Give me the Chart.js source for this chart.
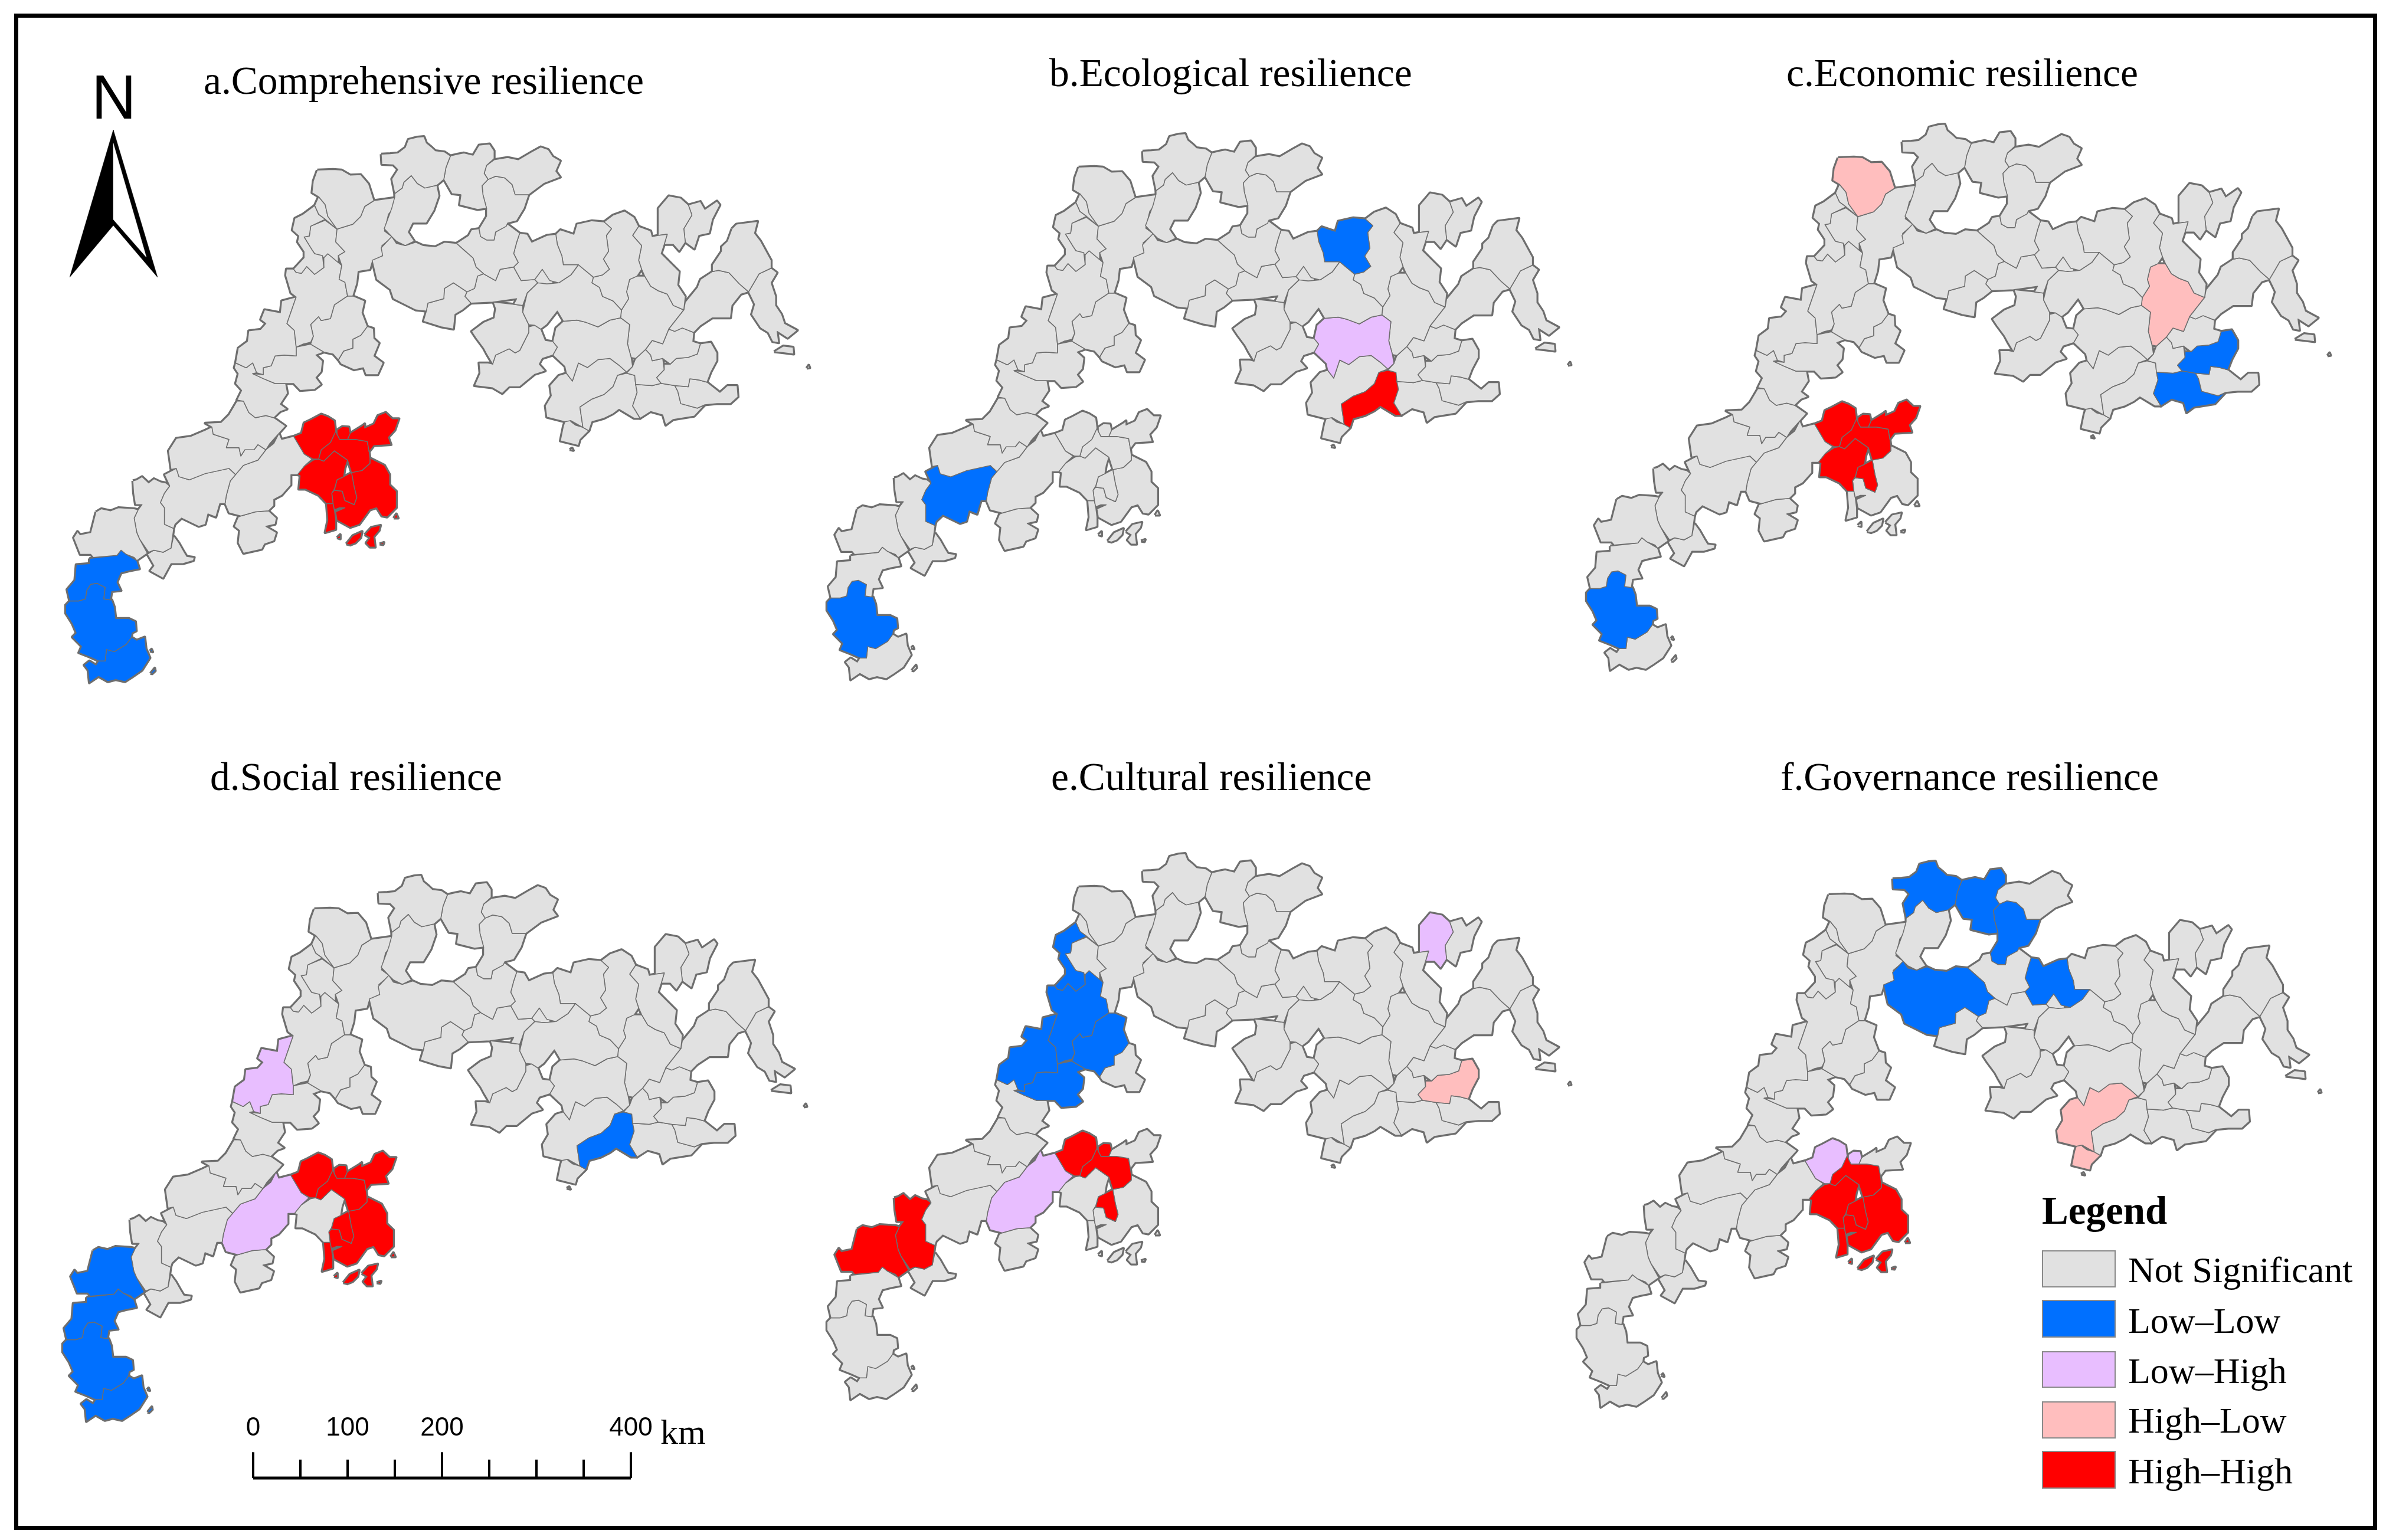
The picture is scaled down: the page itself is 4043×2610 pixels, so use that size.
<!DOCTYPE html>
<html lang="en">
<head>
<meta charset="UTF-8">
<title>Resilience LISA maps</title>
<script src="https://cdn.jsdelivr.net/npm/chart.js"></script>
<style>
    html, body { margin: 0; padding: 0; background: #fff; }
    body { width: 4043px; height: 2610px; position: relative; overflow: hidden; }
    canvas { position: absolute; }
    .txt { position: absolute; white-space: pre; line-height: 1; color: #000; font-family: "Liberation Serif", serif; }
    #frame { position: absolute; left: 24px; top: 23px; width: 4004px; height: 2570px; border: 7px solid #000; box-sizing: border-box; }
    .swatch { position: absolute; width: 125px; box-sizing: border-box; border: 2px solid #8a8a8a; }
</style>
</head>
<body>
<div id="frame"></div>
<script>
// county outlines (flat x,y lists)
// e* = east part, n* = north-west part, s* = south-west part, r* = delta
const e01 = [90,160, 120,158, 145,155, 170,130, 180,95, 210,85, 232,82, 240,110, 258,130, 270,145, 300,150, 320,168, 312,195, 305,220, 298,272, 275,298, 235,310, 210,290, 190,255, 165,285, 160,310, 135,335, 125,270, 145,228, 130,208, 92,205];
const e02 = [320,168, 345,160, 365,155, 395,165, 415,120, 450,115, 465,145, 465,180, 440,210, 432,245, 445,272, 425,300, 428,340, 440,400, 410,405, 350,385, 355,340, 325,335, 298,272, 305,220];
const e03 = [440,210, 465,185, 510,175, 545,185, 590,150, 620,128, 645,140, 660,170, 685,190, 670,235, 685,262, 630,290, 580,340, 535,340, 525,295, 500,265, 470,258, 445,272, 432,245];
const e04 = [445,272, 470,258, 500,265, 525,295, 535,340, 580,340, 565,400, 540,455, 510,465, 505,480, 470,505, 465,540, 440,540, 420,525, 415,490, 440,435, 440,400, 428,340, 425,300];
const e05 = [135,335, 160,310, 165,285, 190,255, 210,290, 235,310, 275,298, 282,345, 265,410, 240,465, 195,465, 180,505, 200,545, 170,565, 140,545, 125,525, 100,490, 125,400, 135,350];
const e06 = [125,525, 140,555, 170,565, 205,550, 230,565, 270,570, 300,550, 340,555, 365,585, 395,620, 405,660, 430,690, 410,700, 400,755, 375,770, 330,730, 300,755, 298,800, 245,820, 240,855, 205,850, 160,820, 130,800, 120,760, 75,715, 60,630, 95,610, 90,575];
const e07 = [245,820, 298,800, 300,755, 330,730, 375,770, 368,790, 388,820, 360,850, 335,870, 330,935, 290,925, 230,900, 240,855];
const e08 = [340,555, 380,520, 390,495, 415,490, 420,525, 440,540, 465,540, 470,505, 510,470, 550,510, 540,550, 530,600, 545,640, 530,660, 485,670, 470,720, 430,690, 405,660, 395,620, 365,585];
const e09 = [550,510, 575,515, 590,550, 640,520, 670,515, 675,560, 690,610, 695,650, 745,650, 720,695, 680,730, 650,720, 625,670, 600,715, 555,720, 530,660, 545,640, 530,600, 540,550];
const e10 = [670,515, 685,495, 730,515, 740,470, 790,455, 830,460, 855,490, 838,520, 845,590, 828,625, 848,670, 825,695, 795,705, 745,650, 695,650, 690,610, 675,560];
const e11 = [830,460, 860,430, 898,412, 930,440, 945,480, 925,520, 955,565, 945,630, 955,670, 940,700, 915,715, 905,770, 912,800, 888,850, 860,810, 825,790, 815,750, 790,730, 795,705, 825,695, 848,670, 828,625, 845,590, 838,520, 855,490];
const e12 = [945,480, 985,500, 990,525, 1010,520, 1040,515, 1030,560, 1020,600, 1050,640, 1080,680, 1075,740, 1100,790, 1095,850, 1060,830, 1040,780, 1010,765, 985,745, 965,700, 955,670, 945,630, 955,565, 925,520];
const e13 = [1010,520, 1010,400, 1045,345, 1085,355, 1110,385, 1122,430, 1095,490, 1100,550, 1080,590, 1060,560, 1030,560, 1040,515];
const e14 = [1110,385, 1150,370, 1165,405, 1205,368, 1215,385, 1190,450, 1180,510, 1145,520, 1130,580, 1100,550, 1095,490, 1122,430];
const e15 = [1255,490, 1270,470, 1340,458, 1330,510, 1350,545, 1385,630, 1385,665, 1345,690, 1330,725, 1310,770, 1280,735, 1245,685, 1210,675, 1190,680, 1190,650, 1220,590, 1220,570, 1240,545];
const e16 = [1385,665, 1405,685, 1385,730, 1400,790, 1400,830, 1420,870, 1430,910, 1472,940, 1440,975, 1405,945, 1410,995, 1390,990, 1375,950, 1350,930, 1320,870, 1330,825, 1310,770, 1330,725, 1345,690];
const e17 = [1190,680, 1210,675, 1245,685, 1280,735, 1310,770, 1285,780, 1255,830, 1250,885, 1190,885, 1150,920, 1128,950, 1090,930, 1065,945, 1045,935, 1095,850, 1100,815, 1140,750, 1150,715];
const e18 = [610,730, 640,735, 680,730, 720,695, 745,650, 795,705, 790,730, 815,750, 825,790, 860,810, 888,850, 885,885, 850,895, 810,925, 770,905, 740,895, 695,900, 675,855, 640,915, 620,935, 600,918, 580,915, 560,860, 575,775];
const e19 = [600,715, 625,670, 645,700, 660,715, 660,735, 640,735, 610,730];
const e20 = [430,690, 470,720, 485,670, 530,660, 555,720, 600,715, 610,730, 575,775, 560,830, 530,825, 540,800, 460,815, 388,820, 368,790, 375,770, 400,755, 410,700];
const e21 = [462,815, 530,825, 560,830, 560,860, 580,915, 580,950, 550,1030, 535,1040, 515,1022, 470,1050, 460,1090, 440,1045, 430,1020, 405,975, 390,945, 430,905, 465,885, 470,845];
const e22 = [600,918, 620,935, 635,985, 660,990, 675,1015, 660,1050, 625,1065, 615,1090, 635,1120, 600,1135, 550,1190, 515,1190, 492,1220, 460,1195, 400,1185, 418,1130, 415,1085, 445,1085, 460,1090, 470,1050, 515,1022, 535,1040, 550,1030, 580,950, 580,925];
const e23 = [695,900, 740,895, 770,905, 810,925, 850,895, 885,885, 915,915, 908,1000, 920,1060, 925,1100, 905,1125, 880,1095, 850,1065, 810,1070, 775,1105, 745,1085, 725,1165, 705,1130, 700,1100, 660,1050, 675,1015, 660,990, 670,930];
const e24 = [915,715, 940,700, 965,700, 985,745, 1010,765, 1040,780, 1060,830, 1095,850, 1045,935, 1025,1000, 990,985, 968,1025, 935,1065, 920,1060, 908,1000, 915,915, 885,885, 888,850, 912,800, 905,770];
const e25 = [1045,935, 1065,945, 1090,930, 1128,950, 1125,990, 1150,1000, 1140,1045, 1110,1060, 1070,1065, 1050,1090, 1025,1065, 990,1075, 985,1050, 968,1025, 990,985, 1025,1000];
const e26 = [1150,1000, 1185,993, 1205,1040, 1205,1075, 1185,1125, 1172,1170, 1145,1160, 1115,1155, 1110,1190, 1065,1185, 1020,1175, 1005,1150, 1030,1115, 1030,1090, 1050,1090, 1070,1065, 1110,1060, 1140,1045];
const e27 = [968,1025, 985,1050, 990,1075, 1025,1065, 1030,1115, 1005,1150, 1020,1175, 990,1185, 935,1180, 932,1140, 905,1130, 925,1100, 935,1065];
const e28 = [1115,1155, 1145,1160, 1172,1170, 1215,1215, 1240,1185, 1272,1185, 1275,1235, 1250,1265, 1205,1265, 1165,1270, 1140,1285, 1085,1265, 1075,1210, 1065,1185, 1110,1190];
const e29 = [935,1180, 990,1185, 1020,1175, 1065,1185, 1075,1210, 1085,1265, 1140,1285, 1165,1270, 1130,1320, 1060,1335, 1035,1360, 1025,1315, 985,1300, 950,1330, 925,1275, 940,1215];
const e30 = [905,1130, 932,1140, 935,1180, 940,1215, 925,1275, 950,1330, 930,1330, 880,1290, 860,1310, 830,1330, 790,1345, 780,1385, 760,1370, 750,1280, 790,1245, 830,1225, 860,1190, 875,1140];
const e31 = [745,1085, 775,1105, 810,1070, 850,1065, 880,1095, 905,1125, 875,1140, 860,1190, 830,1225, 790,1245, 750,1280, 760,1370, 720,1340, 700,1345, 640,1325, 635,1275, 655,1230, 650,1185, 680,1140, 705,1130, 725,1165];
const e32 = [700,1345, 715,1320, 720,1345, 735,1360, 760,1370, 780,1385, 750,1425, 745,1450, 685,1430, 695,1365];
const e33 = [1395,1035, 1425,1010, 1458,1015, 1460,1045, 1430,1040];
const e34 = [1503,1108, 1510,1095, 1513,1106];
const e35 = [716,1468, 724,1462, 728,1472];

const n01 = [1025,265, 1085,262, 1118,265, 1150,290, 1190,288, 1220,335, 1240,420, 1205,450, 1190,500, 1160,540, 1100,565, 1065,500, 1055,440, 1030,400, 1005,380, 1010,320];
const n02 = [1240,420, 1320,405, 1325,440, 1295,490, 1280,575, 1310,605, 1270,650, 1275,700, 1235,725, 1225,770, 1180,780, 1175,840, 1160,905, 1140,905, 1130,835, 1108,820, 1118,750, 1105,700, 1130,680, 1095,630, 1100,565, 1160,540, 1190,500, 1205,450];
const n03 = [1015,445, 1030,490, 1055,515, 1000,550, 995,600, 975,605, 1005,670, 1015,690, 1045,700, 1050,760, 1015,795, 985,755, 965,790, 945,785, 935,768, 975,710, 975,680, 950,630, 955,600, 930,570, 940,510, 970,490];
const n04 = [1030,400, 1055,440, 1065,500, 1100,565, 1055,515, 1030,490, 1015,445];
const n05 = [1055,520, 1100,565, 1095,630, 1130,680, 1105,700, 1105,735, 1065,690, 1050,710, 1015,690, 1005,670, 975,605, 995,600, 1000,550];
const n06 = [935,768, 945,785, 965,790, 985,755, 1015,795, 1050,760, 1050,710, 1065,690, 1105,735, 1118,750, 1108,820, 1130,835, 1140,905, 1090,950, 1075,1020, 1040,1030, 1030,1010, 1000,1050, 1010,1110, 1000,1140, 970,1150, 945,1165, 938,1080, 910,1045, 945,910, 925,890, 905,800, 908,768];
const n07 = [945,910, 910,1045, 938,1080, 945,1165, 945,1210, 900,1205, 865,1210, 850,1260, 820,1270, 820,1305, 795,1295, 780,1245, 755,1270, 715,1245, 725,1170, 760,1135, 765,1082, 810,1075, 830,1045, 810,1025, 825,975, 885,990, 890,930];
const n08 = [1140,905, 1160,905, 1205,930, 1195,990, 1215,1060, 1190,1105, 1160,1125, 1160,1170, 1125,1185, 1105,1230, 1085,1200, 1050,1190, 1000,1150, 1010,1110, 1000,1050, 1030,1010, 1040,1030, 1075,1020, 1090,950];
const n09 = [1215,1060, 1238,1070, 1240,1120, 1260,1145, 1240,1210, 1275,1245, 1255,1305, 1210,1305, 1200,1270, 1165,1280, 1115,1250, 1105,1230, 1125,1185, 1160,1170, 1160,1125, 1190,1105];
const n10 = [945,1165, 1000,1150, 1050,1190, 1020,1205, 1045,1235, 1040,1290, 1020,1320, 1040,1355, 1015,1380, 960,1385, 935,1350, 905,1350, 865,1350, 820,1325, 780,1300, 820,1305, 820,1270, 850,1260, 865,1210, 900,1205, 945,1210];
const n11 = [715,1245, 755,1270, 780,1245, 795,1295, 780,1300, 820,1325, 865,1350, 905,1350, 912,1400, 885,1455, 910,1480, 885,1492, 860,1524, 830,1513, 790,1524, 765,1497, 745,1440, 720,1434, 738,1385, 715,1350, 725,1300, 710,1270];

const s01 = [720,85, 745,85, 765,140, 790,165, 830,155, 860,165, 905,205, 880,240, 845,290, 830,320, 800,295, 785,320, 750,320, 735,350, 728,310, 680,310, 690,270, 630,245, 625,210, 600,192, 660,188, 690,150];
const s02 = [625,210, 630,245, 690,270, 680,310, 728,310, 735,350, 750,320, 785,320, 800,295, 830,320, 800,370, 745,395, 715,440, 690,410, 600,435, 540,465, 500,450, 490,410, 470,415, 460,325, 490,265, 545,255, 600,225];
const s03 = [490,410, 500,450, 540,465, 600,435, 690,410, 715,440, 695,470, 680,540, 675,580, 655,580, 640,645, 610,630, 600,680, 575,690, 510,650, 485,680, 480,700, 445,680, 445,600, 430,575, 445,530, 465,495, 445,440];
const s04 = [860,290, 880,240, 890,270, 935,255, 975,340, 1005,365, 975,400, 950,440, 925,440, 925,490, 890,540, 860,560, 860,590, 840,615, 790,620, 735,640, 690,625, 675,580, 680,540, 695,470, 715,440, 745,395, 800,370, 830,320];
const s05 = [735,640, 790,620, 840,615, 870,650, 865,680, 830,690, 870,720, 860,760, 825,775, 815,800, 745,820, 725,770, 730,710, 710,690, 725,645];
const s06 = [185,620, 205,605, 240,615, 270,600, 330,605, 345,610, 330,650, 340,720, 350,750, 380,820, 340,855, 330,840, 300,825, 280,805, 265,830, 175,840, 165,825, 125,825, 100,745, 115,715, 125,730, 165,720];
const s07 = [325,470, 340,465, 360,450, 385,480, 405,460, 430,475, 450,480, 465,495, 445,530, 430,575, 445,600, 445,680, 480,700, 470,795, 440,815, 405,805, 385,815, 350,750, 340,720, 330,650, 345,610, 360,585, 335,585, 328,530];
const s08 = [480,735, 500,770, 520,815, 530,835, 558,840, 555,855, 515,870, 470,870, 440,940, 390,905, 405,880, 380,825, 405,805, 440,815, 470,795];
const s09 = [160,845, 265,830, 280,805, 300,825, 340,855, 350,895, 310,905, 280,915, 265,960, 280,1000, 245,1005, 240,1045, 215,1040, 220,985, 190,965, 165,970, 150,1000, 145,1040, 120,1050, 85,1050, 75,995, 105,950, 110,875, 160,870];
const s10 = [85,1050, 120,1050, 145,1040, 150,1000, 165,970, 190,965, 220,985, 215,1040, 245,1045, 255,1080, 260,1135, 310,1135, 335,1150, 338,1195, 322,1205, 320,1225, 300,1260, 255,1295, 225,1285, 220,1340, 195,1340, 160,1320, 120,1300, 130,1270, 95,1225, 110,1205, 95,1160, 70,1110, 70,1070];
const s11 = [320,1225, 340,1240, 370,1225, 375,1280, 390,1325, 360,1385, 320,1420, 295,1440, 260,1430, 230,1440, 195,1415, 160,1445, 155,1385, 140,1360, 160,1340, 185,1360, 195,1340, 220,1340, 225,1285, 255,1295, 300,1260];
const s12 = [392,1400, 408,1375, 410,1388, 398,1402];
const s13 = [390,1292, 396,1284, 400,1296];

const r01 = [935,255, 965,240, 975,190, 1000,175, 1040,148, 1065,160, 1090,180, 1095,230, 1075,285, 1040,320, 1030,365, 1010,365, 975,340];
const r02 = [1100,225, 1120,208, 1145,210, 1150,240, 1140,270, 1110,270, 1100,245];
const r03 = [1150,240, 1195,205, 1205,195, 1205,215, 1240,195, 1255,155, 1285,140, 1310,170, 1335,170, 1320,225, 1295,260, 1305,295, 1240,300, 1222,330, 1215,280, 1170,270, 1140,270];
const r04 = [1075,285, 1095,230, 1100,245, 1110,270, 1140,270, 1170,270, 1215,280, 1222,330, 1225,360, 1225,385, 1195,420, 1155,430, 1140,370, 1090,325, 1050,375, 1030,365, 1040,320];
const r05 = [1030,365, 1050,375, 1090,325, 1140,370, 1130,410, 1125,450, 1100,465, 1090,510, 1080,530, 1085,580, 1060,580, 1030,540, 980,510, 955,510, 960,445, 950,440, 975,400, 1010,370];
const r06 = [1155,430, 1165,500, 1175,550, 1165,585, 1130,565, 1120,520, 1090,515, 1100,465, 1125,450];
const r07 = [1225,360, 1280,395, 1300,440, 1300,490, 1325,520, 1325,600, 1290,645, 1270,640, 1250,600, 1225,610, 1185,680, 1150,695, 1100,660, 1095,620, 1130,600, 1110,600, 1090,610, 1085,580, 1080,530, 1090,515, 1120,520, 1130,565, 1165,585, 1175,550, 1165,500, 1155,430, 1195,420, 1225,385];
const r08 = [1060,580, 1085,580, 1090,610, 1095,660, 1095,705, 1055,720, 1065,660];
const r09 = [1135,775, 1160,735, 1195,715, 1190,745, 1170,770, 1150,780];
const r10 = [1205,730, 1230,695, 1265,685, 1260,710, 1240,740, 1245,790, 1225,790, 1210,770, 1225,745];
const r11 = [1100,745, 1112,730, 1112,750];
const r12 = [1315,650, 1325,630, 1332,650];
const r13 = [1262,775, 1278,768, 1275,778];

// which trace each outline came from
const eastCounties = { e01,e02,e03,e04,e05,e06,e07,e08,e09,e10,e11,e12,e13,e14,e15,e16,e17,e18,e19,e20,e21,e22,e23,e24,e25,e26,e27,e28,e29,e30,e31,e32,e33,e34,e35 };
const northCounties = { n01,n02,n03,n04,n05,n06,n07,n08,n09,n10,n11 };
const southCounties = { s01,s02,s03,s04,s05,s06,s07,s08,s09,s10,s11,s12,s13,r01,r02,r03,r04,r05,r06,r07,r08,r09,r10,r11,r12,r13 };

// classes per panel a..f, everything not listed is Not Significant
const deltaIsles = ['r09','r10','r11','r12','r13'];
const southWest = ['s09','s10','s11','s12','s13'];
const lowLow = [
    southWest,
    ['e10','s03','s10'],
    ['e26','e29','s10'],
    ['s06','e30'].concat(southWest),
    ['n03','n06','n07','n08','n10'],
    ['e01','e02','e04','e06','e09']
];
const lowHigh = [
    [],
    ['e23'],
    [],
    ['n07','s04'],
    ['e13','s04'],
    ['r01','r02']
];
const highLow = [
    [],
    [],
    ['n01','e24'],
    [],
    ['e26'],
    ['e31','e32']
];
const highHigh = [
    ['r01','r02','r03','r04','r05','r06','r07','r08'].concat(deltaIsles),
    ['e30'],
    ['r01','r02','r03','r04','r05','r06'],
    ['r01','r02','r03','r04','r06','r07','r08'].concat(deltaIsles),
    ['r01','r02','r04','r06','s06','s07'],
    ['r04','r05','r06','r07','r08'].concat(deltaIsles)
];

const panelTitles = ['a.Comprehensive resilience','b.Ecological resilience','c.Economic resilience','d.Social resilience','e.Cultural resilience','f.Governance resilience'];
const legendLabels = ['Not Significant','Low\u2013Low','Low\u2013High','High\u2013Low','High\u2013High'];
const legendColors = ['#E1E1E1','#0070FF','#E8BEFF','#FFBEBE','#FF0000'];

const scaleTicks = [0,50,100,150,200,250,300,350,400];
const scaleTickHeights = [35,25,25,25,35,25,25,25,35];
const scaleLabels = [0,100,200,400];

// north arrow, in the map units of panel a
const arrowLeft = [192,220, 118,470, 192,382];
const arrowRight = [192,220, 267,470, 192,382];
const arrowHollow = [192,243, 248,436, 192,372];

// layout
const panelDX = [0,1290,2577,-5,1290,2561];
const panelDY = [0,-5,-21,1252,1215,1228];
const titleX = [345,1778,3027,356,1781,3017];
const titleY = [160,147,147,1340,1340,1340];
const MAP = { x0: 80, x1: 1400, y0: 200, y1: 1200 };

function pairs(flat, fx, fy) {
    const pts = [];
    for (let i = 0; i < flat.length; i += 2) pts.push({ x: fx(flat[i]), y: fy(flat[i + 1]) });
    pts.push(pts[0]);
    return pts;
}

// the three groups were read at different crops, bring them to one map frame
const shapes = {};
Object.entries(eastCounties).forEach(([k, v]) => shapes[k] = pairs(v, x => 600 + x / 1.96, y => 200 + y / 2.613));
Object.entries(northCounties).forEach(([k, v]) => shapes[k] = pairs(v, x => 80 + x / 2.24, y => 200 + y / 3));
Object.entries(southCounties).forEach(([k, v]) => shapes[k] = pairs(v, x => 80 + x / 2.24, y => 650 + y / 2.85));

function colorOf(id, p) {
    if (highHigh[p].includes(id)) return legendColors[4];
    if (highLow[p].includes(id)) return legendColors[3];
    if (lowHigh[p].includes(id)) return legendColors[2];
    if (lowLow[p].includes(id)) return legendColors[1];
    return legendColors[0];
}

function polygon(points, fillColor, lineColor, width) {
    return {
        type: 'scatter', data: points, showLine: true, pointRadius: 0, tension: 0,
        fill: fillColor ? 'shape' : false, backgroundColor: fillColor || 'transparent',
        borderColor: lineColor, borderWidth: width, borderJoinStyle: 'round'
    };
}

function addCanvas(left, top, w, h) {
    const c = document.createElement('canvas');
    c.width = w; c.height = h;
    c.style.left = left + 'px'; c.style.top = top + 'px';
    c.style.width = w + 'px'; c.style.height = h + 'px';
    document.body.appendChild(c);
    return c;
}

function addText(str, x, baseline, size, family, weight) {
    const d = document.createElement('div');
    d.className = 'txt';
    d.textContent = str;
    d.style.left = x + 'px';
    d.style.fontSize = size + 'px';
    d.style.top = (baseline - 0.84 * size) + 'px';
    if (family) d.style.fontFamily = family;
    if (weight) d.style.fontWeight = weight;
    document.body.appendChild(d);
}

const baseOptions = {
    responsive: false, animation: false, events: [], devicePixelRatio: 1,
    layout: { padding: 0 },
    plugins: { legend: { display: false }, tooltip: { enabled: false }, title: { display: false } }
};

panelTitles.forEach((title, p) => {
    const ids = Object.keys(shapes);
    // first dataset is drawn on top: thin county borders over a heavier outline
    const datasets = ids.map(id => polygon(shapes[id], colorOf(id, p), '#6E6E6E', 1.5));
    ids.forEach(id => datasets.push(polygon(shapes[id], null, '#6E6E6E', 5)));
    if (p === 0) {
        datasets.unshift(polygon(pairs(arrowHollow, x => x, y => y), '#FFFFFF', '#FFFFFF', 0.5));
        datasets.push(polygon(pairs(arrowLeft, x => x, y => y), '#000000', '#000000', 0.5));
        datasets.push(polygon(pairs(arrowRight, x => x, y => y), '#000000', '#000000', 0.5));
    }
    new Chart(addCanvas(MAP.x0 + panelDX[p], MAP.y0 + panelDY[p], MAP.x1 - MAP.x0, MAP.y1 - MAP.y0), {
        type: 'scatter',
        data: { datasets },
        options: Object.assign({}, baseOptions, {
            scales: {
                x: { type: 'linear', display: false, min: MAP.x0, max: MAP.x1 },
                y: { type: 'linear', display: false, min: MAP.y0, max: MAP.y1, reverse: true }
            }
        })
    });
    addText(title, titleX[p], titleY[p], 67.5);
});

// scale bar
const barSets = [polygon([{ x: 0, y: 0 }, { x: 400, y: 0 }], null, '#000', 5)];
scaleTicks.forEach((t, i) => barSets.push(polygon([{ x: t, y: 0 }, { x: t, y: scaleTickHeights[i] }], null, '#000', 4)));
new Chart(addCanvas(349, 2395, 880, 120), {
    type: 'scatter',
    data: { datasets: barSets },
    options: Object.assign({}, baseOptions, {
        scales: {
            x: {
                type: 'linear', position: 'top', min: -50, max: 500,
                border: { display: false }, grid: { display: false, drawTicks: false },
                afterBuildTicks: axis => { axis.ticks = scaleLabels.map(v => ({ value: v })); },
                ticks: { autoSkip: false, maxRotation: 0, padding: 8, color: '#000', font: { family: 'Liberation Sans', size: 44 } }
            },
            y: { type: 'linear', display: false, min: -8, max: 40 }
        }
    })
});
addText('km', 1119, 2447, 60);
addText('N', 155, 200, 105, '"Liberation Sans", sans-serif');

// legend
addText('Legend', 3460, 2074, 67, null, 'bold');
const swatchTop = [2119,2203,2290,2375,2459];
const swatchH = [63,64,62,63,64];
const legendBase = [2173,2259,2344,2428,2514];
legendLabels.forEach((label, i) => {
    const s = document.createElement('div');
    s.className = 'swatch';
    s.style.left = '3460px';
    s.style.top = swatchTop[i] + 'px';
    s.style.height = swatchH[i] + 'px';
    s.style.background = legendColors[i];
    document.body.appendChild(s);
    addText(label, 3606, legendBase[i], 62);
});
</script>
</body>
</html>
